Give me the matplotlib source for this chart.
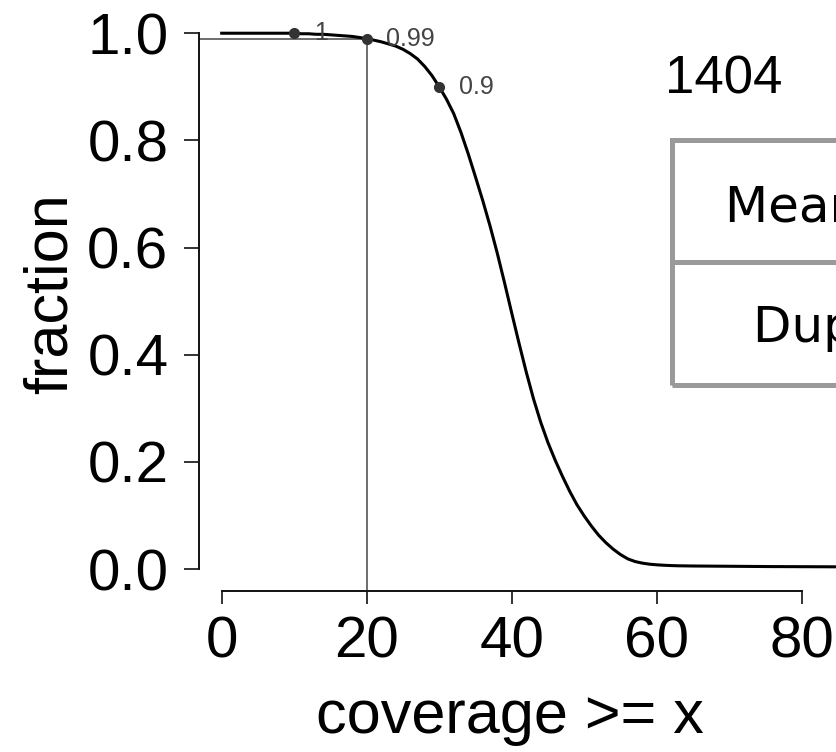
import matplotlib
matplotlib.use("Agg")
import matplotlib.pyplot as plt
from matplotlib.patches import Rectangle
from matplotlib.lines import Line2D

# ---------------- data ----------------
coverage = list(range(0, 86))
fraction = [
    1.000, 1.000, 1.000, 1.000, 1.000, 1.000, 1.000, 1.000, 1.000, 1.000,   # 0-9
    1.000, 0.999, 0.999, 0.998, 0.998, 0.997, 0.996, 0.995, 0.994, 0.992,   # 10-19
    0.990, 0.987, 0.984, 0.980, 0.976, 0.970, 0.962, 0.952, 0.938, 0.921,   # 20-29
    0.900, 0.877, 0.850, 0.815, 0.775, 0.732, 0.688, 0.641, 0.590, 0.535,   # 30-39
    0.478, 0.422, 0.368, 0.318, 0.274, 0.236, 0.203, 0.173, 0.145, 0.120,   # 40-49
    0.099, 0.080, 0.063, 0.049, 0.037, 0.027, 0.019, 0.014, 0.011, 0.009,   # 50-59
    0.0078, 0.0070, 0.0064, 0.006, 0.0058, 0.0056, 0.0055, 0.0054, 0.0053, 0.0052,  # 60-69
    0.0051, 0.005, 0.0049, 0.0048, 0.0047, 0.0046, 0.0045, 0.0045, 0.0044, 0.0044,  # 70-79
    0.0043, 0.0043, 0.0042, 0.0042, 0.0041, 0.0041,                          # 80-85
]
marked_x = [10, 20, 30]
marked_y = [1.0, 0.99, 0.9]
marked_labels = ["1", "0.99", "0.9"]
ref_x = 20
ref_y = 0.99
x_ticks = [0, 20, 40, 60, 80]
x_tick_labels = ["0", "20", "40", "60", "80"]
y_ticks = [0.0, 0.2, 0.4, 0.6, 0.8, 1.0]
y_tick_labels = ["0.0", "0.2", "0.4", "0.6", "0.8", "1.0"]
sample_name = "1404"
table_rows = ["Mean coverage", "Duplication rate"]
x_label = "coverage >= x"
y_label = "fraction"

# ---------------- figure ----------------
plt.rcParams["font.family"] = ["Liberation Sans", "DejaVu Sans"]
W, H = 837, 752
fig = plt.figure(figsize=(W / 100, H / 100), dpi=100)
fig.patch.set_facecolor("white")

ax_left_px, ax_bottom_px = 199, 590.7
ax = fig.add_axes([ax_left_px / W, (H - ax_bottom_px) / H,
                   1 - ax_left_px / W, ax_bottom_px / H])
ax.set_facecolor("none")
xlo, xhi = -3.13, 84.87
ylo, yhi = -0.0405, 1.062
ax.set_xlim(xlo, xhi)
ax.set_ylim(ylo, yhi)

for s in ["top", "right"]:
    ax.spines[s].set_visible(False)
ax.spines["left"].set_bounds(y_ticks[0], y_ticks[-1])
ax.spines["bottom"].set_bounds(x_ticks[0], x_ticks[-1])
for s in ["left", "bottom"]:
    ax.spines[s].set_linewidth(1.4)
    ax.spines[s].set_color("#111111")

ax.set_xticks(x_ticks)
ax.set_xticklabels(x_tick_labels)
ax.set_yticks(y_ticks)
ax.set_yticklabels(y_tick_labels)
ax.tick_params(axis="both", direction="out", width=1.2, colors="#111111",
               labelsize=42, labelcolor="black")
ax.tick_params(axis="y", length=11, pad=11)
ax.tick_params(axis="x", length=9, pad=9)

# reference lines
ax.plot([ref_x, ref_x], [ylo, ref_y], color="#555555", lw=1.2, zorder=2)
ax.plot([xlo, ref_x], [ref_y, ref_y], color="#555555", lw=1.2, zorder=2)

# main curve
ax.plot(coverage, fraction, color="black", lw=2.2, zorder=3,
        solid_joinstyle="round")

# marked points
ax.plot(marked_x, marked_y, "o", color="#333333", ms=7, zorder=4)
for mx, my, lab in zip(marked_x, marked_y, marked_labels):
    ax.annotate(lab, (mx, my), xytext=(14, 0), textcoords="offset points",
                ha="left", va="center", fontsize=18, color="#444444")

# axis labels
fig.text(510 / W, 1 - 733 / H, x_label, ha="center", va="baseline",
         fontsize=44)
fig.text(67 / W, 1 - 294 / H, y_label, ha="center", va="baseline",
         rotation=90, rotation_mode="anchor", fontsize=44)

# sample name
fig.text(665 / W, 1 - 93 / H, sample_name, ha="left", va="baseline",
         fontsize=38)

# table (cropped at right edge, as in the reference)
tb_left, tb_top, tb_mid, tb_bot, tb_right = 672, 140, 262, 385, 1000
fig.add_artist(Rectangle((tb_left / W, 1 - tb_bot / H),
                         (tb_right - tb_left) / W, (tb_bot - tb_top) / H,
                         transform=fig.transFigure, fill=False,
                         ec="#9a9a9a", lw=3.6))
fig.add_artist(Line2D([tb_left / W, tb_right / W], [1 - tb_mid / H, 1 - tb_mid / H],
                      transform=fig.transFigure, color="#9a9a9a", lw=3.6))
fig.text(725 / W, 1 - 222 / H, table_rows[0], ha="left", va="baseline",
         fontsize=36, family=["DejaVu Sans"])
fig.text(753 / W, 1 - 342 / H, table_rows[1], ha="left", va="baseline",
         fontsize=36, family=["DejaVu Sans"])

fig.savefig("out.png", dpi=100)
